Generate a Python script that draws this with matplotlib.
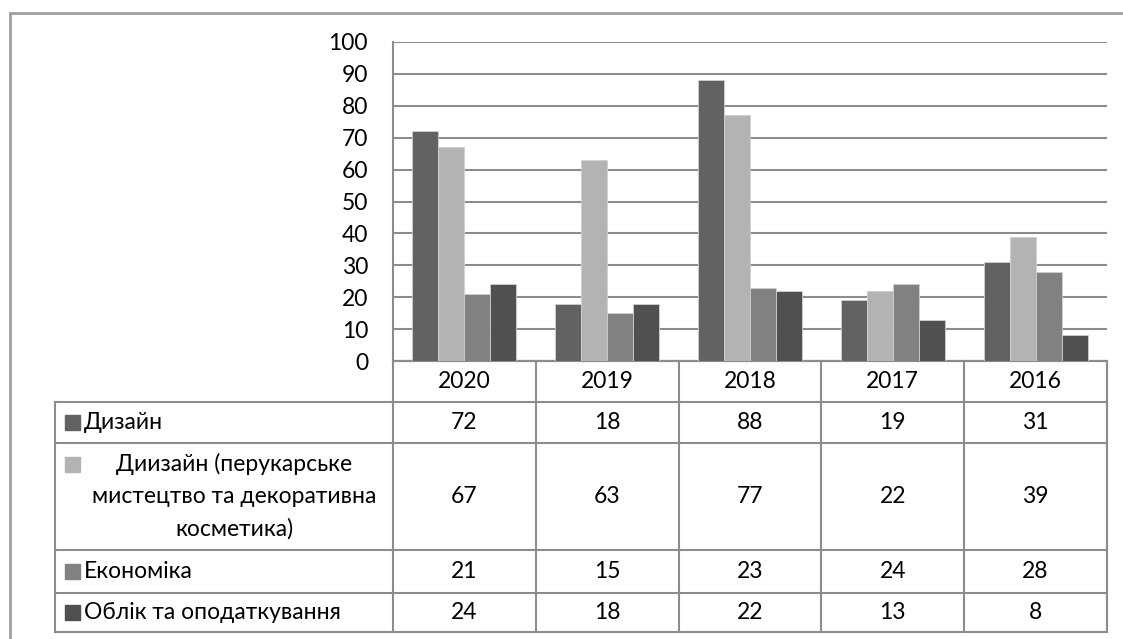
import numpy as np
import matplotlib
matplotlib.use("Agg")
import matplotlib.pyplot as plt
from matplotlib.patches import Rectangle

plt.rcParams['font.family'] = ['Lato', 'DejaVu Sans']

# Data
years = ["2020", "2019", "2018", "2017", "2016"]
series_names = [
    "Дизайн",
    "Диизайн (перукарське\nмистецтво та декоративна\nкосметика)",
    "Економіка",
    "Облік та оподаткування",
]
dyzain = [72, 18, 88, 19, 31]
dyzain_perukar = [67, 63, 77, 22, 39]
ekonomika = [21, 15, 23, 24, 28]
oblik = [24, 18, 22, 13, 8]
y_ticks = [0, 10, 20, 30, 40, 50, 60, 70, 80, 90, 100]

series_values = [dyzain, dyzain_perukar, ekonomika, oblik]
colors = ["#626262", "#b3b3b3", "#818181", "#505050"]
line_gray = "#8c8c8c"
font_size = 16.5

W, H = 1123, 639
fig = plt.figure(figsize=(W / 100, H / 100), dpi=100)

# overlay in pixel coordinates for frame and table
ov = fig.add_axes([0, 0, 1, 1])
ov.set_xlim(0, W)
ov.set_ylim(H, 0)
ov.axis("off")

# bar axes (plot area)
px_left, px_right, px_top, px_bottom = 393, 1107, 42, 361
ax = fig.add_axes([px_left / W, 1 - px_bottom / H,
                   (px_right - px_left) / W, (px_bottom - px_top) / H])

n = len(years)
bar_w = 1 / 5.5
x = np.arange(n)
for j, (vals, c) in enumerate(zip(series_values, colors)):
    ax.bar(x + (j - 1.5) * bar_w, vals, width=bar_w, color=c,
           edgecolor="#d0d0d0", linewidth=0.6, zorder=3)

ax.set_xlim(-0.5, n - 0.5)
ax.set_ylim(0, 100)
ax.set_yticks(y_ticks)
ax.set_yticklabels([str(t) for t in y_ticks], fontsize=font_size)
ax.tick_params(axis="y", length=0, pad=18)
ax.set_xticks([])
ax.grid(axis="y", color=line_gray, linewidth=1.5, zorder=0)
for s in ["top", "right"]:
    ax.spines[s].set_visible(False)
ax.spines["left"].set_color(line_gray)
ax.spines["left"].set_linewidth(1.5)
ax.spines["bottom"].set_color(line_gray)
ax.spines["bottom"].set_linewidth(1.5)
ax.set_facecolor("none")

# outer frame (cut off at right and bottom)
ov.plot([10, 10], [12.5, H], color="#a0a0a0", lw=2)
ov.plot([10, W], [12.5, 12.5], color="#a0a0a0", lw=2)

# table geometry
tab_left = 55
col_w = (px_right - px_left) / n
row_edges = [361, 401.5, 443, 550, 592.5, 632]

# horizontal lines
ov.plot([px_left, px_right], [row_edges[0]] * 2, color=line_gray, lw=1.5)
for yv in row_edges[1:]:
    ov.plot([tab_left, px_right], [yv, yv], color=line_gray, lw=1.5)
# vertical lines
ov.plot([tab_left, tab_left], [row_edges[1], row_edges[-1]], color=line_gray, lw=1.5)
for i in range(n + 1):
    xv = px_left + i * col_w
    ov.plot([xv, xv], [row_edges[0], row_edges[-1]], color=line_gray, lw=1.5)

# header row (years)
for i, yr in enumerate(years):
    ov.text(px_left + (i + 0.5) * col_w, (row_edges[0] + row_edges[1]) / 2, yr,
            ha="center", va="center", fontsize=font_size)

# data rows
for r, (name, vals, c) in enumerate(zip(series_names, series_values, colors)):
    y0, y1 = row_edges[r + 1], row_edges[r + 2]
    yc = (y0 + y1) / 2
    if "\n" in name:
        ov.add_patch(Rectangle((65, y0 + 14), 15, 15, color=c))
        ov.text(234, yc, name, ha="center", va="center", fontsize=font_size,
                linespacing=1.65)
    else:
        ov.add_patch(Rectangle((65, yc - 7.5), 15, 15, color=c))
        ov.text(84, yc, name, ha="left", va="center", fontsize=font_size)
    for i, v in enumerate(vals):
        ov.text(px_left + (i + 0.5) * col_w, yc, str(v),
                ha="center", va="center", fontsize=font_size)

fig.savefig("out.png", dpi=100)
